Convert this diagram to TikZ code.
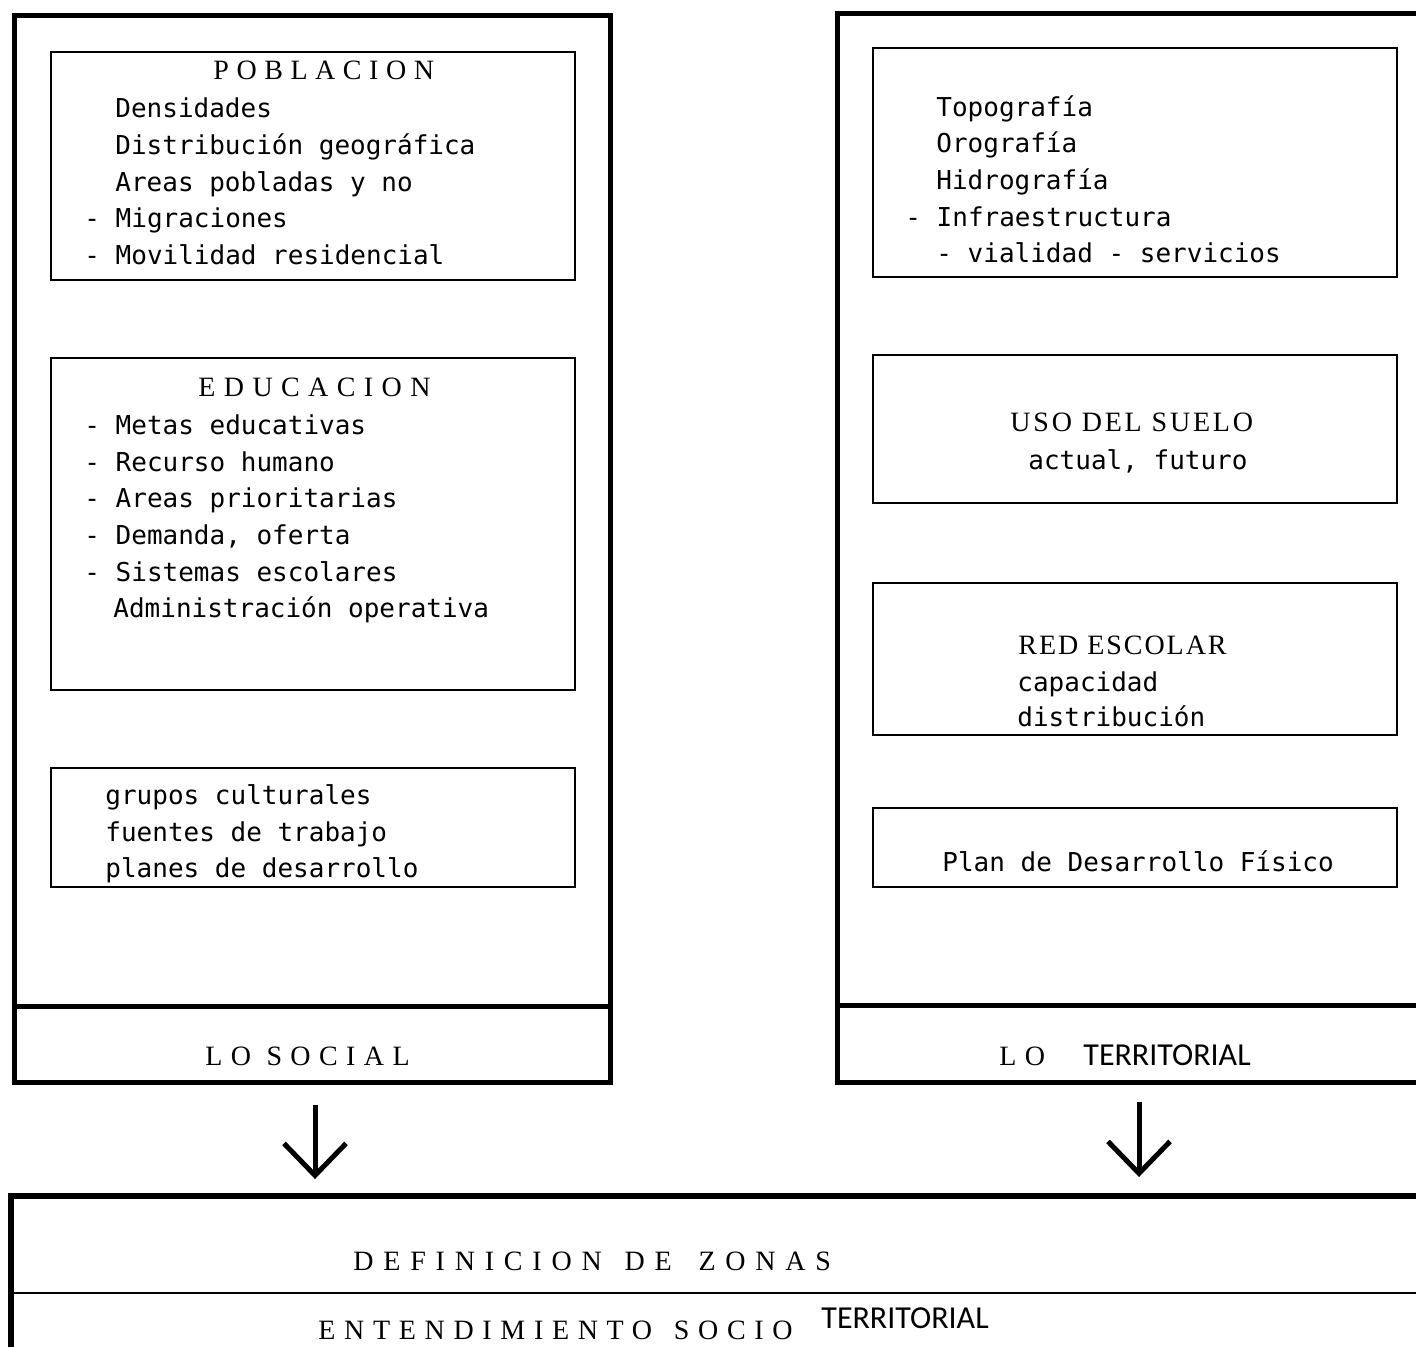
\documentclass[tikz,border=0pt]{standalone}
\usepackage{fontspec}
\setmainfont{Liberation Serif}
\newfontfamily\bodyfont{DejaVu Sans Mono}
\newfontfamily\hdfont{Liberation Serif}
\newfontfamily\terrfont{Carlito}
\usetikzlibrary{arrows.meta}
\tikzset{
  frame/.style={draw, line width=2.5pt, rectangle, inner sep=0pt},
  ibox/.style={draw, line width=1.1pt, rectangle, inner sep=0pt},
  body/.style={anchor=base west, inner sep=0pt, font=\bodyfont\fontsize{13}{15}\selectfont},
  hd/.style={anchor=base west, inner sep=0pt, font=\hdfont\fontsize{14}{16}\selectfont\addfontfeatures{LetterSpace=#1}},
  terr/.style={anchor=base west, inner sep=0pt, font=\terrfont\fontsize{16}{18}\selectfont},
  arr/.style={line width=2.5pt, -{Straight Barb[length=16pt,width=31pt,line width=2.5pt]}}
}
\begin{document}
\begin{tikzpicture}[x=0.5pt,y=-0.5pt]
\useasboundingbox (0,0) rectangle (1416,1346);
\clip (0,0) rectangle (1416,1346);
\fill[white] (0,0) rectangle (1416,1346);

% ---- LO SOCIAL column ----
\node[frame, minimum width=298pt, minimum height=533.5pt] (lframe) at (312,548.5) {};
\draw[line width=2.5pt] (14,1006) -- (610,1006);

\node[ibox, minimum width=262pt, minimum height=114pt] (pob) at (313,166) {};
\node[hd=27] (pobh) at (213,79) {POBLACION};
\node[body] (p1) at (115,117) {Densidades};
\node[body] (p2) at (115,154) {Distribución geográfica};
\node[body] (p3) at (115,191) {Areas pobladas y no};
\node[body] (p4) at (84,227) {- Migraciones};
\node[body] (p5) at (84,264) {- Movilidad residencial};

\node[ibox, minimum width=262pt, minimum height=166pt] (edu) at (313,524) {};
\node[hd=30] (eduh) at (198,396) {EDUCACION};
\node[body] (e1) at (84,434) {- Metas educativas};
\node[body] (e2) at (84,471) {- Recurso humano};
\node[body] (e3) at (84,507) {- Areas prioritarias};
\node[body] (e4) at (84,544) {- Demanda, oferta};
\node[body] (e5) at (84,581) {- Sistemas escolares};
\node[body] (e6) at (113,617) {Administración operativa};

\node[ibox, minimum width=262pt, minimum height=59.5pt] (grp) at (313,827.5) {};
\node[body] (g1) at (105,804) {grupos culturales};
\node[body] (g2) at (105,841) {fuentes de trabajo};
\node[body] (g3) at (105,877) {planes de desarrollo};

\node[hd=30] (social) at (205,1065) {LO SOCIAL};

% ---- LO TERRITORIAL column ----
\node[frame, minimum width=296.5pt, minimum height=534.5pt] (rframe) at (1133.5,547.5) {};
\draw[line width=2.5pt] (837,1005) -- (1430,1005);

\node[ibox, minimum width=262pt, minimum height=114.5pt] (topo) at (1135,162.5) {};
\node[body] (t1) at (936,116) {Topografía};
\node[body] (t2) at (936,152) {Orografía};
\node[body] (t3) at (936,189) {Hidrografía};
\node[body] (t4) at (905,226) {- Infraestructura};
\node[body] (t5) at (936,262) {- vialidad - servicios};

\node[ibox, minimum width=262pt, minimum height=74pt] (uso) at (1135,429) {};
\node[hd=10] (usoh) at (1010,431) {USO DEL SUELO};
\node[body] (u1) at (1028,469) {actual, futuro};

\node[ibox, minimum width=262pt, minimum height=76pt] (red) at (1135,659) {};
\node[hd=7] (redh) at (1018,654) {RED ESCOLAR};
\node[body] (r1) at (1017,691) {capacidad};
\node[body] (r2) at (1017,726) {distribución};

\node[ibox, minimum width=262pt, minimum height=39.5pt] (plan) at (1135,847.5) {};
\node[body] (pl1) at (942,871) {Plan de Desarrollo Físico};

\node[hd=30] (terlo) at (999,1065) {LO};
\node[terr] (ter) at (1083,1065) {TERRITORIAL};

% ---- arrows ----
\coordinate (la) at (315,1105);
\coordinate (lb) at (315,1179);
\coordinate (ra) at (1139,1102);
\coordinate (rb) at (1139,1177);
\draw[arr] (la) -- (lb);
\draw[arr] (ra) -- (rb);

% ---- bottom band ----
\node[draw, line width=3pt, rectangle, inner sep=0pt, minimum width=709.5pt, minimum height=102pt] (bframe) at (720.5,1298) {};
\draw[line width=1pt] (11,1293) -- (1430,1293);
\node[hd=35] (def) at (353,1270) {DEFINICION\hspace{3pt} DE\hspace{5pt} ZONAS};
\node[hd=31] (ent) at (318,1339) {ENTENDIMIENTO\hspace{3pt} SOCIO};
\node[terr] (ent2) at (821,1328) {TERRITORIAL};
\end{tikzpicture}
\end{document}
